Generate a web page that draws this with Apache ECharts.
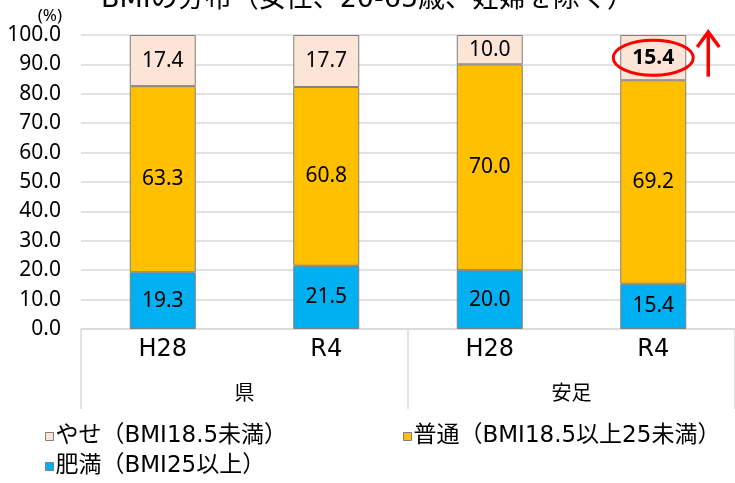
<!DOCTYPE html>
<html><head><meta charset="utf-8">
<script src="https://cdn.jsdelivr.net/npm/echarts@6/dist/echarts.min.js"></script>
<style>html,body{margin:0;padding:0;background:#fff}#c{width:735px;height:483px}</style>
</head><body><div id="c"></div>
<script>
const periods = ['H28','R4','H28','R4'];
const regions = ['県','安足'];
const yTicks = [0,10,20,30,40,50,60,70,80,90,100];
const seriesNames = ['肥満（BMI25以上）','普通（BMI18.5以上25未満）','やせ（BMI18.5未満）'];
const obese = [19.3, 21.5, 20.0, 15.4];
const normal = [63.3, 60.8, 70.0, 69.2];
const thin = [17.4, 17.7, 10.0, 15.4];
const highlightIndex = 3;

const colors = ['#00B0F0','#FFC000','#FCE4D6'];
const jp = '"DejaVu Sans", "Noto Sans CJK JP", sans-serif';
const num = '"Noto Sans", "Open Sans", sans-serif';

function mk(name, vals, color, idx){
  return {
    name, type:'bar', stack:'s', barWidth:66, xAxisIndex:0,
    itemStyle:{color, borderColor:'#7F7F7F', borderWidth:1},
    label:{show:true, position:'inside', color:'#000', fontSize:21, fontFamily:num,
      formatter:p=>p.value.toFixed(1)},
    data: vals.map((v,i)=> (idx===2 && i===highlightIndex) ? {value:v,label:{fontWeight:'bold'}} : v)
  };
}

const chart = echarts.init(document.getElementById('c'));
chart.setOption({
  animation:false,
  title:{text:'BMIの分布（女性、20-65歳、妊婦を除く）', left:'center', top:-19,
    textStyle:{fontSize:27, fontWeight:'normal', color:'#000', fontFamily:jp}},
  grid:{left:81, right:-2, top:35, bottom:154},
  legend:[
    {data:[seriesNames[2]], left:45, top:425},
    {data:[seriesNames[1]], left:403, top:425},
    {data:[seriesNames[0]], left:45, top:455}
  ].map(l=>Object.assign(l,{icon:'rect', itemWidth:8, itemHeight:8, itemGap:4, padding:0,
      itemStyle:{borderColor:'#7F7F7F', borderWidth:1},
      textStyle:{fontSize:23, color:'#000', fontFamily:jp, padding:[0,0,0,-3]}})),
  xAxis:[
    {type:'category', data:periods, position:'bottom',
      axisLine:{lineStyle:{color:'#D9D9D9', width:1.5}}, axisTick:{show:false},
      axisLabel:{color:'#000', fontSize:24, fontFamily:jp, margin:9}},
    {type:'category', data:regions, position:'bottom', gridIndex:0,
      axisLine:{show:false},
      axisTick:{show:true, length:80, lineStyle:{color:'#D9D9D9', width:1.5}},
      axisLabel:{color:'#000', fontSize:20, fontFamily:'"Noto Sans CJK JP", sans-serif', margin:53}}
  ],
  yAxis:{type:'value', min:0, max:100, interval:10, name:'(%)',
    nameGap:8, nameTextStyle:{fontSize:17, color:'#000', fontFamily:num, align:'right', padding:[0,19,0,0]},
    axisLine:{show:false}, axisTick:{show:false},
    splitLine:{lineStyle:{color:'#D9D9D9', width:1.5}},
    axisLabel:{color:'#000', fontSize:21, fontFamily:num, margin:20,
      formatter:v=>yTicks.includes(v)? v.toFixed(1):''}},
  series:[mk(seriesNames[0],obese,colors[0],0), mk(seriesNames[1],normal,colors[1],1), mk(seriesNames[2],thin,colors[2],2)]
});

const yCenter = 100 - thin[highlightIndex]/2;
const c = chart.convertToPixel({xAxisIndex:0, yAxisIndex:0}, [highlightIndex, yCenter]);
const top100 = chart.convertToPixel({yAxisIndex:0}, 100);
chart.setOption({graphic:[
  {type:'ellipse', z:100, shape:{cx:c[0], cy:c[1], rx:40, ry:17.5}, style:{fill:'none', stroke:'#FF0000', lineWidth:3}},
  {type:'line', z:100, shape:{x1:c[0]+55, y1:c[1]+19, x2:c[0]+55, y2:top100}, style:{stroke:'#FF0000', lineWidth:3.5}},
  {type:'polyline', z:100, shape:{points:[[c[0]+44,top100+12],[c[0]+55,top100-3],[c[0]+66,top100+12]]}, style:{stroke:'#FF0000', lineWidth:3.5, fill:'none'}}
]});
</script></body></html>
